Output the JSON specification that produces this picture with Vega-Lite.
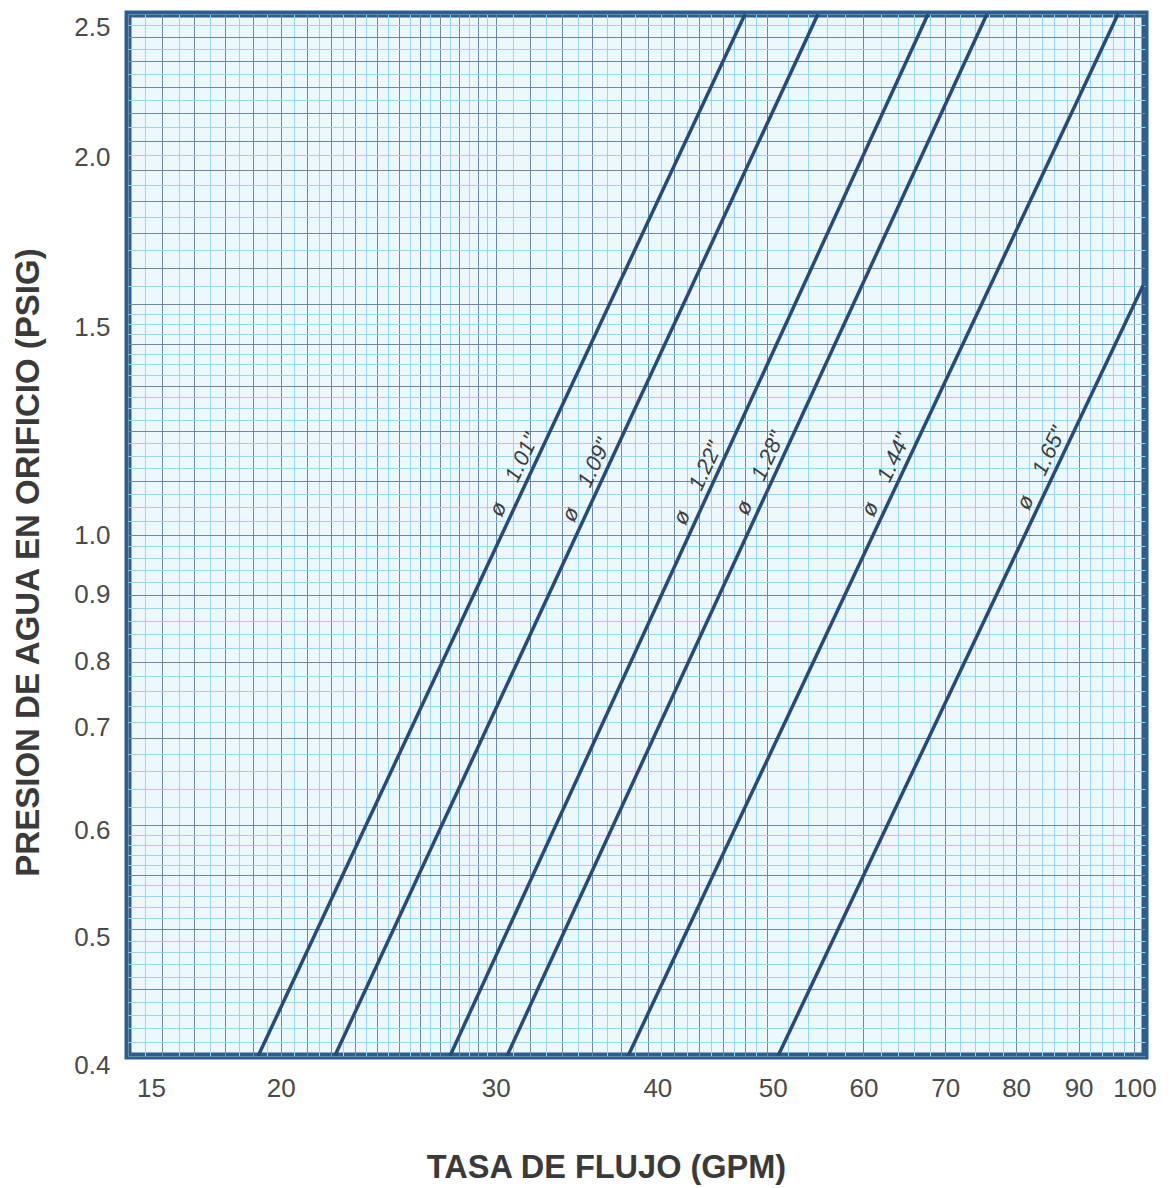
{
  "$schema": "https://vega.github.io/schema/vega-lite/v6.json",
  "width": 1017,
  "height": 1042,
  "autosize": {"type": "none"},
  "padding": {"left": 128, "top": 14, "right": 27, "bottom": 132},
  "background": "#ffffff",
  "view": {"fill": "#edf8fd", "stroke": "#2d5e90", "strokeWidth": 7},
  "datasets": {
    "lines": [
      {"d": "1.01", "Q": 19.17, "P": 0.4},
      {"d": "1.01", "Q": 48.0, "P": 2.5},
      {"d": "1.09", "Q": 22.15, "P": 0.4},
      {"d": "1.09", "Q": 55.07, "P": 2.5},
      {"d": "1.22", "Q": 27.52, "P": 0.4},
      {"d": "1.22", "Q": 67.77, "P": 2.5},
      {"d": "1.28", "Q": 30.64, "P": 0.4},
      {"d": "1.28", "Q": 75.73, "P": 2.5},
      {"d": "1.44", "Q": 38.5, "P": 0.4},
      {"d": "1.44", "Q": 96.95, "P": 2.5},
      {"d": "1.65", "Q": 51.07, "P": 0.4},
      {"d": "1.65", "Q": 101.6, "P": 1.55}
    ],
    "labels": [
      {"label": "ø\u00a0\u00a0\u00a0 1.01\"", "Q": 31.8, "P": 1.1},
      {"label": "ø\u00a0\u00a0\u00a0 1.09\"", "Q": 36.45, "P": 1.09},
      {"label": "ø\u00a0\u00a0\u00a0 1.22\"", "Q": 44.95, "P": 1.084},
      {"label": "ø\u00a0\u00a0\u00a0 1.28\"", "Q": 50.56, "P": 1.103},
      {"label": "ø\u00a0\u00a0\u00a0 1.44\"", "Q": 64.1, "P": 1.1},
      {"label": "ø\u00a0\u00a0\u00a0 1.65\"", "Q": 85.9, "P": 1.113}
    ]
  },
  "encoding": {
    "x": {
      "field": "Q", "type": "quantitative",
      "scale": {"type": "log", "domain": [15, 102], "nice": false},
      "axis": {
        "values": [15,15.5,16,16.5,17,17.5,18,18.5,19,19.5,20,20.5,21,21.5,22,22.5,23,23.5,24,24.5,25,25.5,26,26.5,27,27.5,28,28.5,29,29.5,30,31,32,33,34,35,36,37,38,39,40,41,42,43,44,45,46,47,48,49,50,52,54,56,58,60,62,64,66,68,70,72,74,76,78,80,82,84,86,88,90,92,94,96,98,100],
        "grid": true,
        "gridColor": {"condition": {"test": "(datum.value <= 30 && datum.value % 1 == 0) || (datum.value <= 50 && datum.value % 2 == 0) || datum.value % 10 == 0", "value": "#6a8aa5"}, "value": "#98d5f0"},
        "gridWidth": 1,
        "ticks": false,
        "domain": false,
        "format": "d",
        "labelExpr": "indexof([15,20,30,40,50,60,70,80,90,100], datum.value) >= 0 ? datum.label : ''",
        "labelOffset": {"condition": [{"test": "datum.value == 15", "value": 23}, {"test": "datum.value == 40", "value": 9}, {"test": "datum.value == 50", "value": 6}], "value": 0},
        "labelFont": "Liberation Sans",
        "labelFontSize": 26,
        "labelColor": "#4a4a4a",
        "labelPadding": 19,
        "labelOverlap": false,
        "labelFlush": false,
        "labelBound": false,
        "title": "TASA DE FLUJO (GPM)",
        "titleFont": "Liberation Sans",
        "titleFontSize": 32.5,
        "titleFontWeight": "bold",
        "titleColor": "#3a3a3a",
        "titleX": 478,
        "titleY": 111,
        "titleAlign": "center",
        "titleBaseline": "middle"
      }
    },
    "y": {
      "field": "P", "type": "quantitative",
      "scale": {"type": "log", "domain": [0.4, 2.5], "nice": false},
      "axis": {
        "values": [0.4,0.41,0.42,0.43,0.44,0.45,0.46,0.47,0.48,0.49,0.5,0.51,0.52,0.53,0.54,0.55,0.56,0.57,0.58,0.59,0.6,0.62,0.64,0.66,0.68,0.7,0.72,0.74,0.76,0.78,0.8,0.82,0.84,0.86,0.88,0.9,0.92,0.94,0.96,0.98,1.0,1.025,1.05,1.075,1.1,1.125,1.15,1.175,1.2,1.225,1.25,1.275,1.3,1.325,1.35,1.375,1.4,1.425,1.45,1.475,1.5,1.55,1.6,1.65,1.7,1.75,1.8,1.85,1.9,1.95,2.0,2.05,2.1,2.15,2.2,2.25,2.3,2.35,2.4,2.45,2.5],
        "grid": true,
        "gridColor": {"condition": {"test": "(datum.value <= 1.0 && abs(datum.value*20 - round(datum.value*20)) < 0.001) || abs(datum.value*10 - round(datum.value*10)) < 0.001", "value": "#6a8aa5"}, "value": "#98d5f0"},
        "gridWidth": 1,
        "ticks": false,
        "domain": false,
        "format": ".1f",
        "labelExpr": "indexof([0.4,0.5,0.6,0.7,0.8,0.9,1,1.5,2,2.5], datum.value) >= 0 ? datum.label : ''",
        "labelOffset": {"condition": [{"test": "datum.value == 2.5", "value": 13}, {"test": "datum.value == 2", "value": 17}, {"test": "datum.value == 1.5", "value": 23}, {"test": "datum.value == 0.7", "value": -10}, {"test": "datum.value == 0.6", "value": 5}, {"test": "datum.value == 0.5", "value": 8}, {"test": "datum.value == 0.4", "value": 9}], "value": 0},
        "labelFont": "Liberation Sans",
        "labelFontSize": 26,
        "labelColor": "#4a4a4a",
        "labelPadding": 18,
        "labelOverlap": false,
        "labelFlush": false,
        "labelBound": false,
        "title": "PRESION DE AGUA EN ORIFICIO (PSIG)",
        "titleFont": "Liberation Sans",
        "titleFontSize": 33,
        "titleFontWeight": "bold",
        "titleColor": "#3a3a3a",
        "titleAngle": 270,
        "titleX": -100,
        "titleY": 548,
        "titleAlign": "center",
        "titleBaseline": "middle"
      }
    }
  },
  "layer": [
    {
      "data": {"name": "lines"},
      "mark": {"type": "line", "color": "#274b78", "strokeWidth": 3.5, "clip": true},
      "encoding": {"detail": {"field": "d", "type": "nominal"}}
    },
    {
      "data": {"name": "labels"},
      "mark": {"type": "text", "angle": -65, "align": "center", "baseline": "middle", "dy": -14, "font": "Liberation Sans", "fontStyle": "italic", "fontSize": 22, "color": "#3d3d3d"},
      "encoding": {"text": {"field": "label", "type": "nominal"}}
    }
  ]
}
